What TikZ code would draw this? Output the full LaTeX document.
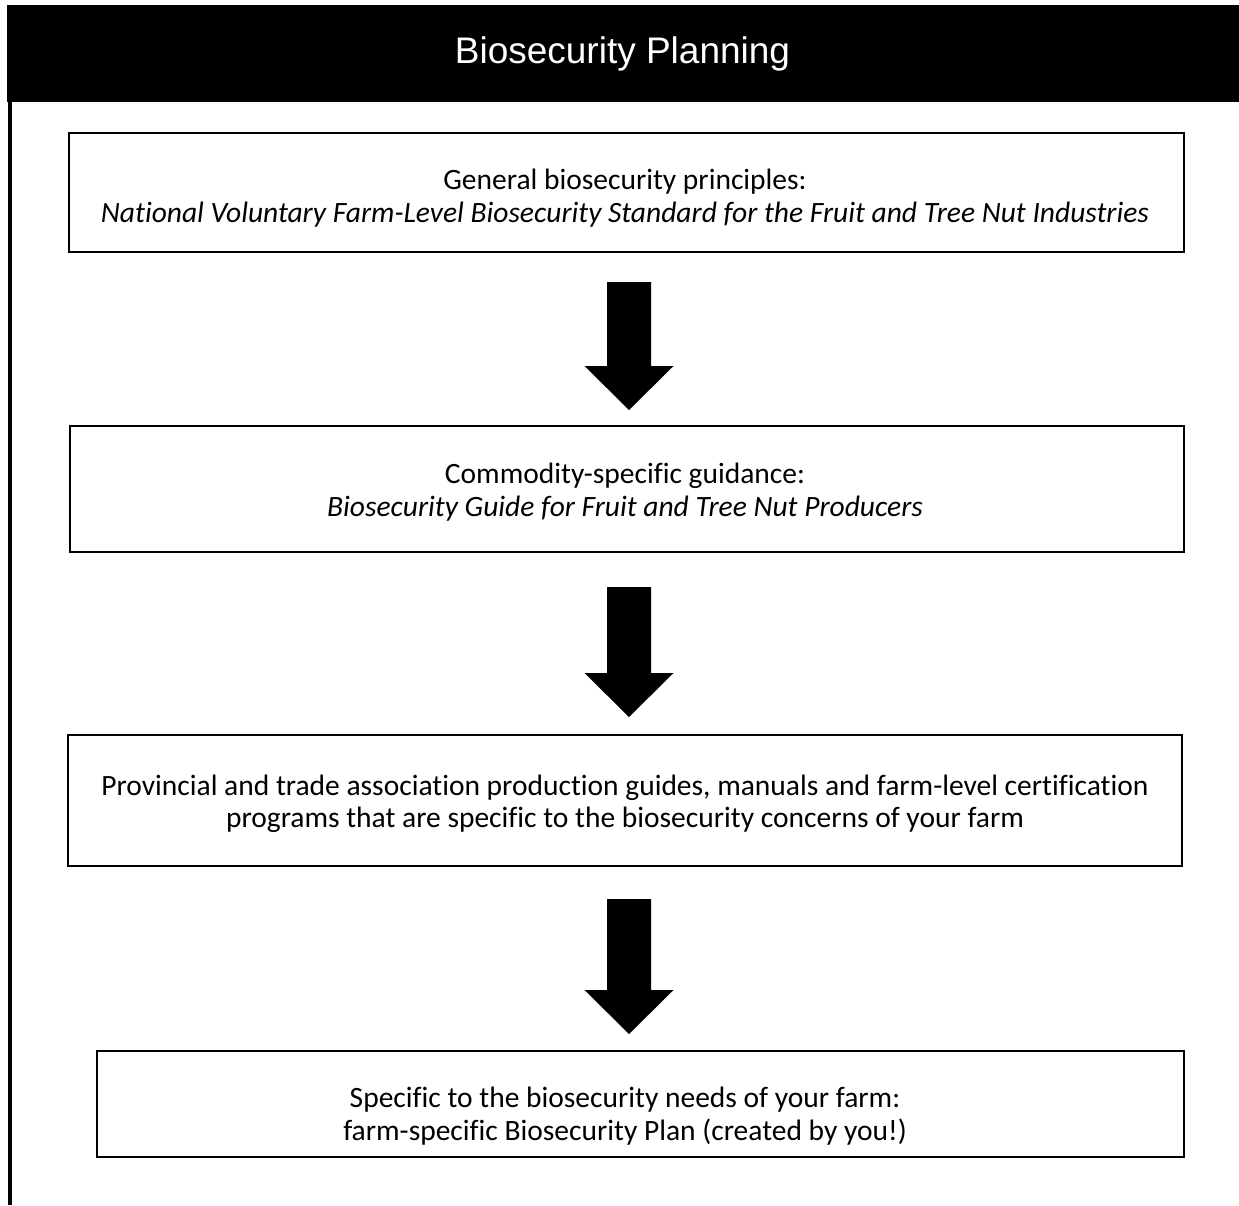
\documentclass[tikz,border=0pt]{standalone}
\usepackage{fontspec}
\setmainfont{Carlito}[Ligatures={NoCommon}]
\newfontfamily\titlefont{Liberation Sans}
\begin{document}
\begin{tikzpicture}[x=1pt,y=-1pt,
  stagebox/.style={draw=black,line width=2pt,rectangle,inner sep=0pt},
  stagetext/.style={align=center,inner sep=0pt,font=\fontsize{29.5}{32.5}\selectfont},
  blockarrow/.style={fill=black}]
\useasboundingbox (0,0) rectangle (1239,1205);
% header
\node[fill=black,minimum width=1232pt,minimum height=97pt,inner sep=0pt,anchor=north west] (header) at (7,5) {};
\node[text=white,font=\titlefont\fontsize{37}{40}\selectfont] (title) at (622.5,53.5) {Biosecurity Planning};
\coordinate (lefttop) at (10,101);
\coordinate (leftbot) at (10,1205);
\draw[line width=3.5pt] (lefttop) -- (leftbot);
% boxes
\node[stagebox,minimum width=1115pt,minimum height=119pt] (b1) at (626.5,192.5) {};
\node[stagebox,minimum width=1114pt,minimum height=126pt] (b2) at (627,489) {};
\node[stagebox,minimum width=1114pt,minimum height=131pt] (b3) at (625,800.5) {};
\node[stagebox,minimum width=1087pt,minimum height=106pt] (b4) at (640.5,1104) {};
% texts
\node[stagetext] (t1) at (625,198) {General biosecurity principles:\\\textit{National Voluntary Farm-Level Biosecurity Standard for the Fruit and Tree Nut Industries}};
\node[stagetext] (t2) at (625,492) {Commodity-specific guidance:\\\textit{Biosecurity Guide for Fruit and Tree Nut Producers}};
\node[stagetext] (t3) at (625,804) {Provincial and trade association production guides, manuals and farm-level certification\\programs that are specific to the biosecurity concerns of your farm};
\node[stagetext] (t4) at (625,1116) {Specific to the biosecurity needs of your farm:\\farm-specific Biosecurity Plan (created by you!)};
% block arrows between boxes
\newcommand\myblockarrow[3]{%
  \fill[blockarrow] (629-22,#1) -- (629+22,#1) -- (629+22,#2) -- (629+44.5,#2) -- (629,#3) -- (629-44.5,#2) -- (629-22,#2) -- cycle;}
\myblockarrow{282}{366}{410}
\myblockarrow{587}{673}{717}
\myblockarrow{899}{990}{1034}
\end{tikzpicture}
\end{document}
